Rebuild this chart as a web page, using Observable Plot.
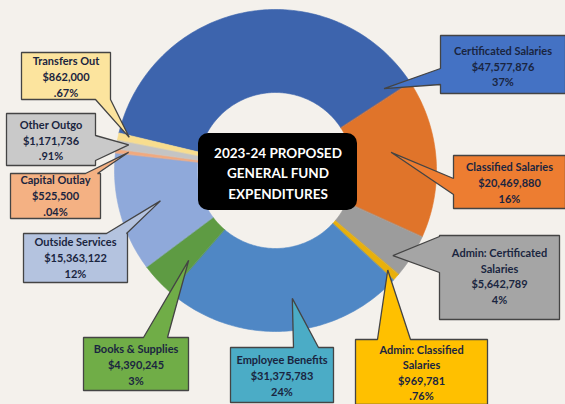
<!DOCTYPE html>
<html><head><meta charset="utf-8">
<script src="https://cdn.jsdelivr.net/npm/d3@7"></script>
<script src="https://cdn.jsdelivr.net/npm/@observablehq/plot@0.6"></script>
<style>
html,body{margin:0;padding:0;background:#F4F1EC;}
#chart svg{display:block}
</style></head><body><div id="chart"></div>
<script>
// ---------- data ----------
const categories = ["Certificated Salaries","Classified Salaries","Admin: Certificated Salaries","Admin: Classified Salaries","Employee Benefits","Books & Supplies","Outside Services","Capital Outlay","Other Outgo","Transfers Out"];
const labelNames = ["Certificated Salaries","Classified Salaries","Admin: Certificated\nSalaries","Admin: Classified\nSalaries","Employee Benefits","Books & Supplies","Outside Services","Capital Outlay","Other Outgo","Transfers Out"];
const amounts = [47577876,20469880,5642789,969781,31375783,4390245,15363122,525500,1171736,862000];
const percentLabels = ["37%","16%","4%",".76%","24%","3%","12%",".04%",".91%",".67%"];
const titleLines = ["2023-24 PROPOSED","GENERAL FUND","EXPENDITURES"];

// ---------- styles ----------
const sliceColors = ["#3D64AD","#E0742A","#9C9C9C","#E8B00C","#4F87C5","#5E9B43","#8FA9DA","#F1A97E","#C4C4C4","#F8DD8E"];
const boxColors   = ["#4472C4","#ED7D31","#A5A5A5","#FFC000","#4BACC6","#70AD47","#B4C3DF","#F4B183","#C9C9C9","#FCE49E"];

// ---------- layout ----------
const W = 565, H = 404, cx = 275, cy = 170, rOuter = 161, rInner = 78, startDeg = 283.5;
const callouts = [
  {box:[440,565,35,93],  side:"left",   base:[68,84],   frac:0.97, r:136},
  {box:[453,565,155,208],side:"left",   base:[178,194], frac:0.42, r:117},
  {box:[439,559,235,319],side:"left",   base:[236,272], frac:0.73, r:145},
  {box:[355,487,339,404],side:"top",    base:[377,410], frac:0.5,  r:150},
  {box:[230,333,347,402],side:"top",    base:[293,318], frac:0.45, r:129},
  {box:[83,188,337,390], side:"top",    base:[143,167], frac:0.25, r:125},
  {box:[23,127,233,282], side:"top",    base:[106,126], frac:0.51, r:119},
  {box:[10,100,173,218], side:"top",    base:[85,97],   frac:0.5,  r:148},
  {box:[6,95,113,165],   side:"right",  base:[135,160], frac:0.64, r:149},
  {box:[21,110,52,99],   side:"bottom", base:[95,110],  frac:0.7,  r:150}
];
const titleBox = {x1:198, x2:357, y1:133, y2:210};

// ---------- geometry from data ----------
const start = startDeg * Math.PI / 180;
const arcs = d3.pie().sort(null).startAngle(start).endAngle(start + 2*Math.PI)(amounts);
const pt = (a, r) => [cx + r*Math.sin(a), cy - r*Math.cos(a)];

const sliceRows = [];
arcs.forEach((d, i) => {
  const n = Math.max(2, Math.ceil((d.endAngle - d.startAngle) * 180 / Math.PI));
  const outer = d3.range(n + 1).map(k => pt(d.startAngle + (d.endAngle - d.startAngle)*k/n, rOuter));
  const inner = d3.range(n + 1).map(k => pt(d.endAngle - (d.endAngle - d.startAngle)*k/n, rInner));
  [...outer, ...inner].forEach(([x, y]) => sliceRows.push({i, x, y, color: sliceColors[i]}));
});

function calloutPoly(c, tip) {
  const [x0,x1,y0,y1] = c.box, [b0,b1] = c.base;
  const p = [[x0,y0]];
  if (c.side === "top") p.push([b0,y0], tip, [b1,y0]);
  p.push([x1,y0]);
  if (c.side === "right") p.push([x1,b0], tip, [x1,b1]);
  p.push([x1,y1]);
  if (c.side === "bottom") p.push([b1,y1], tip, [b0,y1]);
  p.push([x0,y1]);
  if (c.side === "left") p.push([x0,b1], tip, [x0,b0]);
  return p;
}

const boxRows = [], labelRows = [];
const fmt = d3.format("$,");
callouts.forEach((c, i) => {
  const d = arcs[i];
  const tip = pt(d.startAngle + (d.endAngle - d.startAngle)*c.frac, c.r);
  calloutPoly(c, tip).forEach(([x, y]) => boxRows.push({i, x, y, color: boxColors[i]}));
  labelRows.push({
    x: (c.box[0] + c.box[1]) / 2,
    y: (c.box[2] + c.box[3]) / 2,
    text: [labelNames[i], fmt(amounts[i]), percentLabels[i]].join("\n")
  });
});
// fine vertical adjustments of label blocks
const labelDy = [1, 0, -2, 0, 0, 0, -1, -1, 0, 0];
labelRows.forEach((r, i) => r.y += labelDy[i]);

const chart = Plot.plot({
  width: W, height: H, margin: 0,
  x: {domain: [0, W], range: [0, W], axis: null},
  y: {domain: [0, H], range: [0, H], axis: null},
  color: {type: "identity"},
  style: {background: "#F4F1EC", fontFamily: "Lato, sans-serif"},
  marks: [
    Plot.line(sliceRows, {x: "x", y: "y", z: "i", fill: "color", stroke: "color", strokeWidth: 0.6, curve: "linear-closed"}),
    Plot.line(boxRows, {x: "x", y: "y", z: "i", fill: "color", stroke: "#444", strokeWidth: 1.3, strokeLinejoin: "miter", curve: "linear-closed"}),
    Plot.text(labelRows, {x: "x", y: "y", text: "text", fontSize: 11, fontWeight: "bold", fill: "#1A2540", lineHeight: 1.42, fontFamily: "Lato, sans-serif"}),
    Plot.rect([titleBox], {x1: "x1", x2: "x2", y1: "y1", y2: "y2", fill: "#000", rx: 10}),
    Plot.text([titleLines.join("\n")], {x: (titleBox.x1 + titleBox.x2)/2, y: (titleBox.y1 + titleBox.y2)/2, text: d => d, fill: "#fff", fontSize: 13.5, fontWeight: "bold", lineHeight: 1.5, fontFamily: "Lato, sans-serif"})
  ]
});
document.getElementById("chart").appendChild(chart);
</script></body></html>
